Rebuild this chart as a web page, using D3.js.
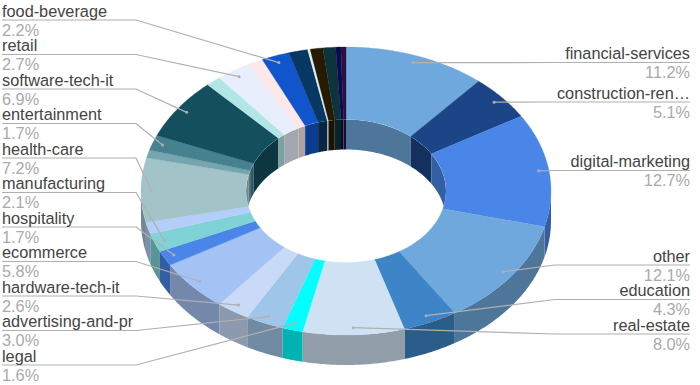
<!DOCTYPE html>
<html>
<head>
<meta charset="utf-8">
<script src="https://cdn.jsdelivr.net/npm/d3@7"></script>
<style>
    html, body { margin: 0; padding: 0; background: #fff; }
    svg { display: block; }
    text { font-family: "Liberation Sans", Arial, sans-serif; font-size: 16.3px; }
</style>
</head>
<body>
<div id="chart"></div>
<script>
// Clockwise from 12 o'clock. Empty name = slice too small to get a label
const categories = [
    'financial-services', 'construction-ren…', 'digital-marketing', 'other', 'education', 'real-estate',
    'legal', 'advertising-and-pr', 'hardware-tech-it', 'ecommerce', 'hospitality', 'manufacturing',
    '', 'health-care', '', 'entertainment', 'software-tech-it', '', 'retail', '', 'food-beverage',
    '', '', '', '', '', ''
];
const shares = [
    11.2, 5.1, 12.7, 12.1, 4.3, 8.0,
    1.6, 3.0, 2.6, 5.8, 1.7, 2.1,
    1.3, 7.2, 0.9, 1.7, 6.9, 1.2, 2.7, 1.2, 2.2,
    1.5, 0.2, 1.0, 1.0, 0.4, 0.4
];
const sliceColors = [
    '#6fa8dc', '#1c4587', '#4a86e8', '#6fa8dc', '#3d85c6', '#cfe2f3',
    '#00ffff', '#9fc5e8', '#c9daf8', '#a4c2f4', '#4a86e8', '#7fd3d6',
    '#b3cefb', '#a2c4c9', '#76a5af', '#45818e', '#134f5c', '#b2e6e6', '#e8eefc', '#fce8e8', '#1155cc',
    '#073763', '#e4f0f0', '#271a00', '#0c343d', '#0a0a50', '#2a1040'
];
// Label order on each side, top to bottom
const leftLabels = ['food-beverage', 'retail', 'software-tech-it', 'entertainment', 'health-care',
    'manufacturing', 'hospitality', 'ecommerce', 'hardware-tech-it', 'advertising-and-pr', 'legal'];
const rightLabels = ['financial-services', 'construction-ren…', 'digital-marketing', 'other', 'education', 'real-estate'];
const rightLineY = [62.5, 102, 170.5, 265, 299.5, 334]; // Google pushes the lower ones apart

const width = 700, height = 385;
const cx = 346, cy = 191;
const outerRx = 205, outerRy = 144, innerRx = 100, innerRy = 71.5;
const depth = 30;
const wallShade = 0.7; // Side walls are the top colour times this

const svg = d3.select('#chart').append('svg')
    .attr('width', width)
    .attr('height', height);

const slices = d3.pie().sort(null).value(d => d.value)(
    shares.map((value, i) => ({ name: categories[i], value, color: sliceColors[i] }))
);

function shade(color) {
    const c = d3.rgb(color);
    return d3.rgb(c.r * wallShade, c.g * wallShade, c.b * wallShade).formatRgb();
}

// Angle is clockwise from 12 o'clock, same as d3.pie
const px = (a, rx) => cx + rx * Math.sin(a);
const py = (a, ry) => cy - ry * Math.cos(a);

function wallPath(start, end, rx, ry) {
    const samples = d3.range(start, end, 0.01).concat(end);
    return d3.area()
        .x(a => px(a, rx))
        .y0(a => py(a, ry))
        .y1(a => py(a, ry) + depth)(samples);
}

svg.append('clipPath').attr('id', 'hole')
    .append('ellipse')
    .attr('cx', cx).attr('cy', cy)
    .attr('rx', innerRx).attr('ry', innerRy);

// Outer wall only shows on the lower half
const outerWalls = svg.append('g');
slices.forEach(d => {
    const start = Math.max(d.startAngle, Math.PI / 2);
    const end = Math.min(d.endAngle, Math.PI * 1.5);
    if (end <= start) return;
    outerWalls.append('path')
        .attr('d', wallPath(start, end, outerRx, outerRy))
        .attr('fill', shade(d.data.color));
});

// Inner wall only shows on the far side of the hole
const innerWalls = svg.append('g').attr('clip-path', 'url(#hole)');
slices.forEach(d => {
    const ranges = [
        [d.startAngle, Math.min(d.endAngle, Math.PI / 2)],
        [Math.max(d.startAngle, Math.PI * 1.5), d.endAngle]
    ];
    ranges.forEach(([start, end]) => {
        if (end <= start) return;
        innerWalls.append('path')
            .attr('d', wallPath(start, end, innerRx, innerRy))
            .attr('fill', shade(d.data.color));
    });
});

// Top face: ring of two ellipses, the inner one has its own ratio
function topPath(d) {
    const outer = d3.range(d.startAngle, d.endAngle, 0.01).concat(d.endAngle);
    const points = outer.map(a => [px(a, outerRx), py(a, outerRy)])
        .concat(outer.slice().reverse().map(a => [px(a, innerRx), py(a, innerRy)]));
    return d3.line()(points) + 'Z';
}

svg.append('g').selectAll('path')
    .data(slices)
    .join('path')
    .attr('d', topPath)
    .attr('fill', d => d.data.color)
    .attr('stroke', d => d.data.color)
    .attr('stroke-width', 0.3);

// Leader lines and labels
const anchorRadius = 0.95;
const leftLineY = d3.scaleLinear().domain([0, 1]).range([20, 54.5]);
const bySlice = new Map(slices.filter(d => d.data.name).map(d => [d.data.name, d]));
const leaderColor = '#b0b0b0';
const labelsG = svg.append('g');

function drawLabel(name, y, side) {
    const d = bySlice.get(name);
    const mid = (d.startAngle + d.endAngle) / 2;
    const anchor = [px(mid, outerRx * anchorRadius), py(mid, outerRy * anchorRadius)];
    const isLeft = side === 'left';
    const points = isLeft
        ? [[2, y], [136, y], anchor]
        : [[690, y], [555, y], anchor];

    labelsG.append('path')
        .attr('d', d3.line()(points))
        .attr('fill', 'none')
        .attr('stroke', leaderColor)
        .attr('stroke-width', 1.2);

    labelsG.append('circle')
        .attr('cx', anchor[0]).attr('cy', anchor[1])
        .attr('r', 1.5)
        .attr('fill', leaderColor);

    const textX = isLeft ? 2 : 690;
    const anchorMode = isLeft ? 'start' : 'end';
    labelsG.append('text')
        .attr('x', textX).attr('y', y - 3.5)
        .attr('text-anchor', anchorMode)
        .attr('fill', '#444')
        .text(name);
    labelsG.append('text')
        .attr('x', textX).attr('y', y + 15.5)
        .attr('text-anchor', anchorMode)
        .attr('fill', '#aaa')
        .text(d.data.value.toFixed(1) + '%');
}

leftLabels.forEach((name, i) => drawLabel(name, leftLineY(i), 'left'));
rightLabels.forEach((name, i) => drawLabel(name, rightLineY[i], 'right'));
</script>
</body>
</html>
